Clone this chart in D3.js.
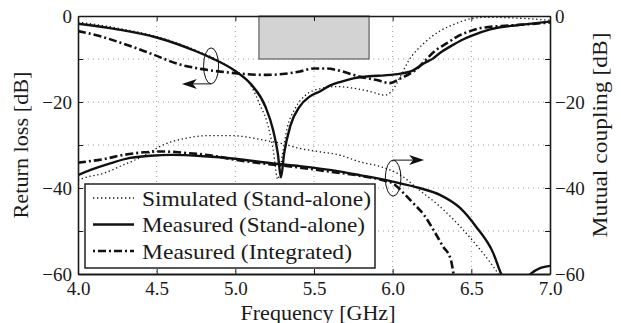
<!DOCTYPE html>
<html><head><meta charset="utf-8">
<script src="https://cdn.jsdelivr.net/npm/d3@7"></script>
<style>
body{margin:0;background:#fff}
svg{display:block}
</style>
</head><body>
<svg id="chart" width="621" height="323"></svg>
<script>
// ---- Data (frequency in GHz, level in dB) ----
const xTicks = [4.0, 4.5, 5.0, 5.5, 6.0, 6.5, 7.0];
const yTicks = [0, -10, -20, -30, -40, -50, -60];
const yTickLabels = [0, -20, -40, -60];

const rlSimF = [4.0, 4.25, 4.5, 4.75, 4.9, 5.0, 5.1, 5.16, 5.2, 5.24, 5.27, 5.3, 5.33, 5.38, 5.45, 5.55, 5.65, 5.75, 5.85, 5.95, 6.0, 6.05, 6.1, 6.2, 6.3, 6.4, 6.5, 6.6, 6.8, 7.0];
const rlSimV = [-1.4, -2.8, -4.8, -8.0, -10.5, -12.8, -16.2, -21.0, -24.5, -31.0, -38.0, -32.0, -26.0, -21.5, -18.3, -16.8, -16.4, -16.8, -17.5, -18.4, -17.2, -14.0, -10.5, -6.3, -3.5, -1.8, -0.6, -0.3, -0.5, -1.0];

const rlMeasF = [4.0, 4.25, 4.5, 4.75, 4.85, 5.0, 5.1, 5.19, 5.24, 5.27, 5.29, 5.31, 5.35, 5.41, 5.47, 5.54, 5.6, 5.67, 5.75, 5.85, 5.95, 6.05, 6.12, 6.2, 6.26, 6.3, 6.37, 6.45, 6.5, 6.62, 6.8, 7.0];
const rlMeasV = [-1.8, -3.1, -5.0, -8.2, -9.8, -12.8, -15.9, -21.0, -26.5, -32.0, -37.5, -32.0, -25.5, -21.0, -18.8, -17.5, -16.2, -15.3, -14.5, -14.0, -13.8, -13.4, -12.8, -11.0, -9.8, -8.6, -7.0, -5.4, -4.6, -3.1, -2.1, -1.3];

const rlIntF = [4.0, 4.15, 4.27, 4.46, 4.65, 4.78, 4.97, 5.1, 5.2, 5.3, 5.41, 5.5, 5.58, 5.67, 5.79, 5.9, 5.98, 6.05, 6.15, 6.2, 6.27, 6.35, 6.41, 6.5, 6.56, 6.75, 6.94, 7.0];
const rlIntV = [-3.5, -4.8, -6.2, -8.7, -11.3, -12.3, -13.2, -13.6, -13.7, -13.5, -12.9, -12.2, -12.2, -12.8, -14.1, -14.9, -15.6, -14.5, -12.4, -10.6, -8.1, -6.2, -4.8, -3.4, -2.8, -2.2, -1.7, -1.5];

const mcSimF = [4.0, 4.035, 4.16, 4.29, 4.42, 4.54, 4.69, 4.84, 4.97, 5.1, 5.2, 5.29, 5.41, 5.54, 5.67, 5.79, 5.92, 6.05, 6.17, 6.3, 6.43, 6.54, 6.64, 6.7];
const mcSimV = [-38.2, -37.7, -36.6, -34.6, -32.5, -30.0, -28.4, -27.8, -27.8, -28.3, -29.0, -29.6, -30.8, -31.6, -32.4, -33.9, -35.0, -37.0, -40.5, -44.3, -49.0, -53.6, -58.3, -61.5];

const mcMeasF = [4.0, 4.08, 4.21, 4.33, 4.46, 4.59, 4.8, 5.0, 5.24, 5.41, 5.67, 5.79, 6.0, 6.17, 6.3, 6.43, 6.53, 6.64, 6.69, 6.74, 6.8, 6.87, 6.94, 7.0];
const mcMeasV = [-37.0, -35.8, -34.2, -33.0, -32.5, -32.3, -32.6, -33.2, -34.3, -34.9, -36.2, -37.0, -38.5, -40.0, -41.6, -44.7, -49.0, -55.2, -60.0, -63.0, -63.5, -60.2, -58.6, -58.1];

const mcIntF = [4.0, 4.16, 4.29, 4.42, 4.54, 4.67, 4.84, 5.01, 5.2, 5.4, 5.6, 5.8, 5.95, 6.0, 6.07, 6.13, 6.2, 6.26, 6.32, 6.37, 6.39, 6.41];
const mcIntV = [-34.1, -33.3, -32.3, -31.7, -31.5, -31.8, -32.4, -33.5, -34.4, -35.2, -36.2, -37.2, -38.3, -38.9, -41.2, -43.5, -46.3, -49.8, -53.6, -56.7, -60.5, -63.0];

const bandF = [5.15, 5.85];
const bandV = [0, -10];

const legendLabels = ["Simulated (Stand-alone)", "Measured (Stand-alone)", "Measured (Integrated)"];
const annoRL = {f: 4.846, v: -11.6, tipF: 4.66};
const annoMC = {f: 6.003, v: -37.7, tipF: 6.20};

// ---- Layout ----
const FONT = '"Liberation Serif"';
const svg = d3.select("#chart");
const L = 78, R = 550, T = 16, B = 274;
const x = d3.scaleLinear().domain([4, 7]).range([L, R]);
const y = d3.scaleLinear().domain([-60, 0]).range([B, T]);
const yR = d3.scaleLinear().domain([-60, 0]).range([B, T]);

svg.append("defs").append("clipPath").attr("id", "clip")
  .append("rect").attr("x", L).attr("y", T).attr("width", R - L).attr("height", B - T);

// grid
const grid = svg.append("g").attr("stroke", "#9a9a9a").attr("stroke-width", 1).attr("stroke-dasharray", "1,4");
xTicks.filter(d => d > 4 && d < 7).forEach(d => {
  grid.append("line").attr("x1", x(d)).attr("x2", x(d)).attr("y1", T).attr("y2", B);
});
yTicks.filter(d => d < 0 && d > -60).forEach(d => {
  grid.append("line").attr("x1", L).attr("x2", R).attr("y1", y(d)).attr("y2", y(d));
});

// band rectangle
svg.append("rect")
  .attr("x", x(bandF[0])).attr("y", y(bandV[0]))
  .attr("width", x(bandF[1]) - x(bandF[0])).attr("height", y(bandV[1]) - y(bandV[0]))
  .attr("fill", "#d3d3d3").attr("stroke", "#444").attr("stroke-width", 1);

// curves
const mk = (F, V, sc) => F.map((f, i) => [x(f), sc(V[i])]);
const line = d3.line().curve(d3.curveMonotoneX);
const curves = svg.append("g").attr("clip-path", "url(#clip)").attr("fill", "none");
const styleDot = {w: 1.3, dash: "1.3,2.7"};
const styleSolid = {w: 2.4, dash: null};
const styleDD = {w: 2.6, dash: "8,3,2,3"};
function draw(F, V, sc, st) {
  const p = curves.append("path").attr("d", line(mk(F, V, sc)))
    .attr("stroke", "#111").attr("stroke-width", st.w).attr("stroke-linejoin", "round");
  if (st.dash) p.attr("stroke-dasharray", st.dash);
}
draw(rlSimF, rlSimV, y, styleDot);
draw(mcSimF, mcSimV, yR, styleDot);
draw(rlIntF, rlIntV, y, styleDD);
draw(mcIntF, mcIntV, yR, styleDD);
draw(rlMeasF, rlMeasV, y, styleSolid);
draw(mcMeasF, mcMeasV, yR, styleSolid);

// axes
const fmt = d => yTickLabels.includes(d) ? d3.format("d")(d) : "";
const axB = svg.append("g").attr("transform", `translate(0,${B})`)
  .call(d3.axisBottom(x).tickValues(xTicks).tickSize(-5).tickSizeOuter(0).tickPadding(8).tickFormat(d3.format(".1f")));
const axT = svg.append("g").attr("transform", `translate(0,${T})`)
  .call(d3.axisTop(x).tickValues(xTicks).tickSize(-5).tickSizeOuter(0).tickFormat(""));
const axL = svg.append("g").attr("transform", `translate(${L},0)`)
  .call(d3.axisLeft(y).tickValues(yTicks).tickSize(-5).tickSizeOuter(0).tickPadding(6).tickFormat(fmt));
const axR = svg.append("g").attr("transform", `translate(${R},0)`)
  .call(d3.axisRight(yR).tickValues(yTicks).tickSize(-5).tickSizeOuter(0).tickPadding(5).tickFormat(fmt));
[axB, axT, axL, axR].forEach(a => {
  a.select(".domain").attr("stroke", "#1a1a1a").attr("stroke-width", 1.6);
  a.selectAll(".tick line").attr("stroke", "#1a1a1a").attr("stroke-width", 1);
  a.selectAll("text").style("font-family", FONT).style("font-size", "19px").attr("fill", "#1a1a1a");
});
axB.select(".domain").attr("stroke-width", 2);

// axis titles
const txt = (sel, fs) => sel.style("font-family", FONT).style("font-size", (fs || 21) + "px").attr("fill", "#1a1a1a");
txt(svg.append("text"), 20).attr("x", 318).attr("y", 320).attr("text-anchor", "middle")
  .attr("textLength", 155).attr("lengthAdjust", "spacingAndGlyphs").text("Frequency [GHz]");
txt(svg.append("text")).attr("transform", `translate(28,${(T + B) / 2}) rotate(-90)`).attr("text-anchor", "middle")
  .attr("textLength", 147).attr("lengthAdjust", "spacingAndGlyphs").text("Return loss [dB]");
txt(svg.append("text")).attr("transform", `translate(607,${(T + B) / 2 - 10}) rotate(-90)`).attr("text-anchor", "middle")
  .attr("textLength", 205).attr("lengthAdjust", "spacingAndGlyphs").text("Mutual coupling [dB]");

// annotations (ellipses + arrows)
const ann = svg.append("g").attr("stroke", "#111").attr("stroke-width", 1).attr("fill", "none");
function arrowHead(tx, ty, dir) {
  const s = dir;
  return `M${tx},${ty} L${tx - s * 15},${ty - 5} L${tx - s * 11},${ty} L${tx - s * 15},${ty + 5} Z`;
}
{
  const cx = x(annoRL.f), cy = y(annoRL.v), ry = 18;
  ann.append("ellipse").attr("cx", cx).attr("cy", cy).attr("rx", 7.5).attr("ry", ry);
  const tx = x(annoRL.tipF), ty = cy + ry;
  ann.append("line").attr("x1", cx).attr("y1", ty).attr("x2", tx + 10).attr("y2", ty);
  svg.append("path").attr("d", arrowHead(tx, ty, -1)).attr("fill", "#111");
}
{
  const cx = x(annoMC.f), cy = yR(annoMC.v), ry = 18;
  ann.append("ellipse").attr("cx", cx).attr("cy", cy).attr("rx", 7.8).attr("ry", ry);
  const tx = x(annoMC.tipF), ty = cy - ry;
  ann.append("line").attr("x1", cx).attr("y1", ty).attr("x2", tx - 10).attr("y2", ty);
  svg.append("path").attr("d", arrowHead(tx, ty, 1)).attr("fill", "#111");
}

// legend
const lg = svg.append("g");
lg.append("rect").attr("x", 85).attr("y", 184).attr("width", 290).attr("height", 84)
  .attr("fill", "#fff").attr("stroke", "#222").attr("stroke-width", 1.5);
const legStyles = [styleDot, styleSolid, {w: 2.6, dash: "2,3,8,3"}];
const legLen = [229, 223, 210];
legendLabels.forEach((t, i) => {
  const cy = 198 + i * 26.5;
  const ln = lg.append("line").attr("x1", 93).attr("x2", 134).attr("y1", cy).attr("y2", cy)
    .attr("stroke", "#111").attr("stroke-width", legStyles[i].w);
  if (legStyles[i].dash) ln.attr("stroke-dasharray", legStyles[i].dash);
  txt(lg.append("text")).attr("x", 142).attr("y", cy + 7.5)
    .attr("textLength", legLen[i]).attr("lengthAdjust", "spacingAndGlyphs").text(t);
});
</script>
</body></html>
